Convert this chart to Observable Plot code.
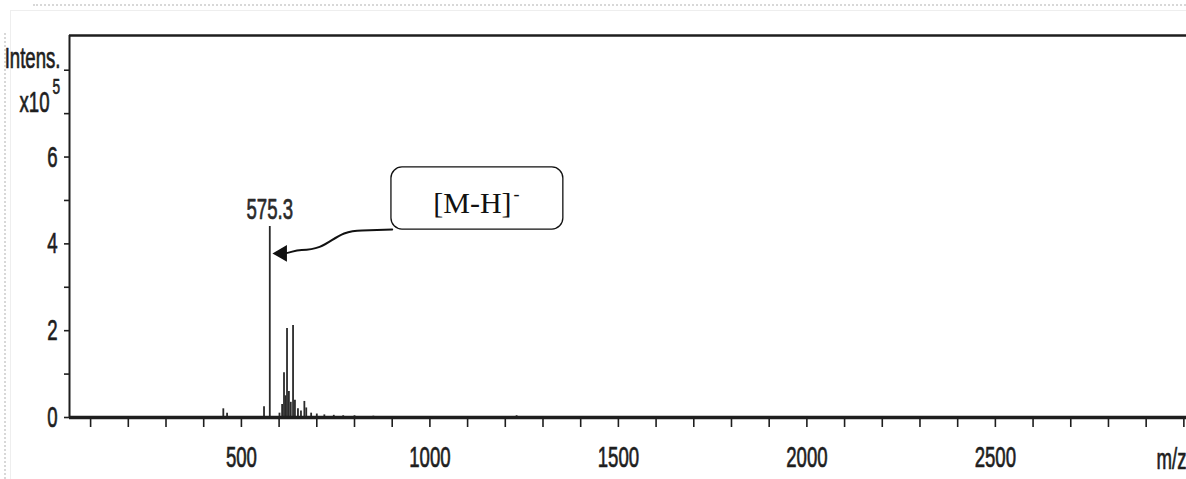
<!DOCTYPE html>
<html>
<head>
<meta charset="utf-8">
<script src="https://cdn.jsdelivr.net/npm/d3@7"></script>
<script src="https://cdn.jsdelivr.net/npm/@observablehq/plot@0.6"></script>
<style>
  html, body { margin: 0; padding: 0; background: #fff; }
  #wrap { position: relative; width: 1186px; height: 479px; overflow: hidden; }
  .deco { position: absolute; pointer-events: none; }
</style>
</head>
<body>
<div id="wrap">
  <div class="deco" style="left:33px;top:4px;right:0;border-top:2px dotted #d8d8d8"></div>
  <div class="deco" style="left:4px;top:33px;bottom:0;border-left:2px dotted #d8d8d8"></div>
  <div class="deco" style="left:10px;top:10px;right:0;border-top:1px solid #eeeeee"></div>
  <div class="deco" style="left:10px;top:10px;bottom:0;border-left:1px solid #eeeeee"></div>
</div>
<script>
// ---- data (m/z, intensity in units of 10^5) ----
const peakMz        = [452, 462, 560, 575.3, 601, 608, 613, 617, 621, 626, 631, 637, 642, 650, 658, 667, 672, 685, 700, 720, 745, 770, 800, 850, 880, 1230];
const peakIntensity = [0.20, 0.10, 0.25, 4.40, 0.10, 0.30, 1.03, 0.50, 2.05, 0.60, 0.35, 2.12, 0.40, 0.20, 0.15, 0.37, 0.22, 0.10, 0.08, 0.06, 0.05, 0.04, 0.04, 0.03, 0.02, 0.04];
const labelPeak = {mz: 575.3, I: 4.40, text: "575.3"};
const xTicks = d3.range(100, 3001, 100);
const xTickLabels = [500, 1000, 1500, 2000, 2500];
const yTicks = d3.range(0, 9, 1);
const yTickLabels = [0, 2, 4, 6];
const xDomain = [44, 3007];
const yDomain = [0, 8.8];
// annotation box and arrow, in data units
const boxMz = [898, 1354];
const boxI = [4.33, 5.76];
const annotText = {mz: 1009, I: 4.72, text: "[M-H]"};
const annotSup = {mz: 1222, I: 5.02, text: "-"};
const arrowMz = [900, 820, 660, 610];
const arrowI = [4.33, 4.31, 3.86, 3.78];
const arrowHead = {mz: 608, I: 3.78};

const peaks = peakMz.map((mz, i) => ({mz, I: peakIntensity[i]}));
const arrowPts = arrowMz.map((mz, i) => ({mz, I: arrowI[i]}));

const sans = "Liberation Sans, Arial, Helvetica, sans-serif";
const serif = "Liberation Serif, Times New Roman, serif";
const ink = "#1e1e1e";
const heavy = {stroke: ink, strokeWidth: 0.7};

const chart = Plot.plot({
  width: 1186,
  height: 479,
  marginLeft: 69,
  marginRight: 0,
  marginTop: 35,
  marginBottom: 62,
  style: {background: "transparent", overflow: "visible", color: ink},
  x: {domain: xDomain, axis: null},
  y: {domain: yDomain, axis: null},
  marks: [
    // frame lines
    Plot.ruleY([yDomain[1]], {stroke: ink, strokeWidth: 2.5}),
    Plot.ruleX([xDomain[0]], {y1: 0, y2: yDomain[1], stroke: ink, strokeWidth: 2}),
    // axes
    Plot.axisX({ticks: xTicks, tickSize: 10, tickPadding: 18, strokeWidth: 1.6, stroke: ink, label: null,
      tickFormat: d => xTickLabels.includes(d) ? String(d) : "",
      fontSize: 30, fontFamily: sans, fill: ink}),
    Plot.axisY({ticks: yTicks, tickSize: 5, tickPadding: 7, strokeWidth: 1.6, stroke: ink, label: null,
      tickFormat: d => yTickLabels.includes(d) ? String(d) : "",
      fontSize: 30, fontFamily: sans, fill: ink}),
    // spectrum sticks
    Plot.ruleX(peaks, {x: "mz", y1: 0, y2: "I", stroke: "#2a2a2a", strokeWidth: 1.8}),
    // baseline
    Plot.ruleY([0], {stroke: ink, strokeWidth: 3.5}),
    // peak label
    Plot.text([labelPeak], {x: "mz", y: "I", text: "text", dy: -8, lineAnchor: "bottom",
      fontSize: 30, fontFamily: sans, fill: "#2a2a2a", ...heavy}),
    // axis titles
    Plot.text(["Intens."], {frameAnchor: "top-left", dx: -9, dy: 32, textAnchor: "end", lineAnchor: "bottom",
      fontSize: 30, fontFamily: sans, fill: ink, ...heavy}),
    Plot.text(["x10"], {frameAnchor: "top-left", dx: -20, dy: 76, textAnchor: "end", lineAnchor: "bottom",
      fontSize: 30, fontFamily: sans, fill: ink, ...heavy}),
    Plot.text(["5"], {frameAnchor: "top-left", dx: -17, dy: 58, textAnchor: "start", lineAnchor: "bottom",
      fontSize: 22, fontFamily: sans, fill: ink, ...heavy}),
    Plot.text(["m/z"], {frameAnchor: "bottom-right", dx: -30, dy: 51, textAnchor: "start", lineAnchor: "bottom",
      fontSize: 30, fontFamily: sans, fill: ink, ...heavy}),
    // annotation
    Plot.rect([0], {x1: boxMz[0], x2: boxMz[1], y1: boxI[0], y2: boxI[1], rx: 11,
      fill: "white", stroke: "#111", strokeWidth: 1.3}),
    Plot.text([annotText], {x: "mz", y: "I", text: "text", textAnchor: "start", lineAnchor: "bottom",
      fontSize: 30, fontFamily: serif, fill: "#111"}),
    Plot.text([annotSup], {x: "mz", y: "I", text: "text", textAnchor: "start", lineAnchor: "bottom",
      fontSize: 18, fontFamily: serif, fill: "#111"}),
    Plot.line(arrowPts, {x: "mz", y: "I", curve: "bump-x", stroke: "#111", strokeWidth: 2}),
    Plot.dot([arrowHead], {x: "mz", y: "I", symbol: "triangle2", r: 8, rotate: -90, fill: "#111", stroke: "none"})
  ]
});

chart.style.position = "absolute";
chart.style.left = "0";
chart.style.top = "0";
document.getElementById("wrap").appendChild(chart);

// condense the sans-serif labels (the original uses a narrow typeface)
chart.querySelectorAll("text").forEach(t => {
  if (!t.textContent) return;
  const fam = getComputedStyle(t).fontFamily || "";
  if (/serif/i.test(fam) && !/sans/i.test(fam)) return;
  const len = t.getComputedTextLength();
  if (len > 0) {
    t.setAttribute("textLength", (len * 0.62).toFixed(2));
    t.setAttribute("lengthAdjust", "spacingAndGlyphs");
  }
  // thicken slightly like the scanned original
  if (!t.getAttribute("stroke")) {
    t.setAttribute("stroke", ink);
    t.setAttribute("stroke-width", "0.7");
  }
});
</script>
</body>
</html>
